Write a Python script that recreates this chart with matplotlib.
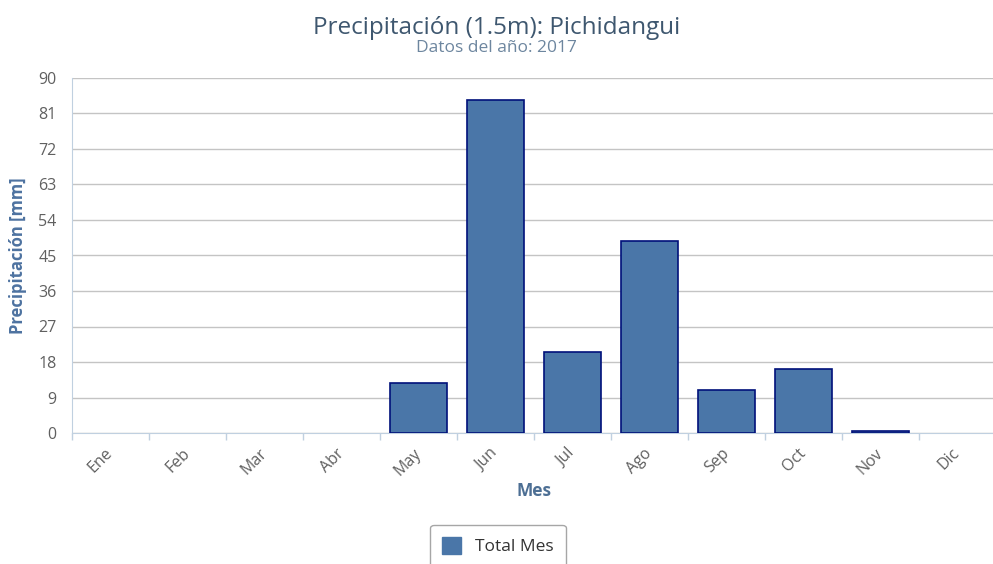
#!/usr/bin/env python3

import matplotlib
matplotlib.use("Agg")
import matplotlib.pyplot as plt
from matplotlib.ticker import FixedLocator

plt.rcParams['font.family'] = ['Open Sans', 'DejaVu Sans']

months = ["Ene", "Feb", "Mar", "Abr", "May", "Jun",
          "Jul", "Ago", "Sep", "Oct", "Nov", "Dic"]
total_mes = [0, 0, 0, 0, 12.7, 84.3, 20.6, 48.8, 10.9, 16.2, 0.6, 0]
yticks = [0, 9, 18, 27, 36, 45, 54, 63, 72, 81, 90]

fig = plt.figure(figsize=(9.93, 5.64), dpi=100)
ax = fig.add_axes([72 / 993, 131 / 564, 924 / 993, 355 / 564])

x = list(range(len(months)))
bars = ax.bar(x, total_mes, width=0.75, color="#4a76a8", edgecolor="#00107a",
              linewidth=1.2, label="Total Mes", zorder=3)
# highcharts doesn't draw an outline for empty columns
for b, v in zip(bars, total_mes):
    if v == 0:
        b.set_linewidth(0)

ax.set_xlim(-0.5, len(months) - 0.5)
ax.set_ylim(0, 90)
ax.set_yticks(yticks)
ax.yaxis.grid(True, color="#c4c4c4", linewidth=1, zorder=0)
ax.tick_params(axis="y", length=0, pad=11, labelsize=11.5, labelcolor="#606060")

ax.set_xticks(x)
ax.set_xticklabels(months, rotation=45, ha="right", va="center",
                   rotation_mode="anchor")
ax.tick_params(axis="x", which="major", length=0, pad=13, labelsize=11.5,
               labelcolor="#606060")
ax.xaxis.set_minor_locator(FixedLocator([i + 0.5 for i in range(-1, len(months))]))
ax.tick_params(axis="x", which="minor", length=5, width=1, color="#c0d0e0")

for s in ["top", "right"]:
    ax.spines[s].set_visible(False)
ax.spines["bottom"].set_color("#c0d0e0")
ax.spines["left"].set_color("#c0d0e0")

ax.set_ylabel("Precipitación [mm]", fontsize=12, fontweight="bold",
              color="#4d72a0", labelpad=8)
ax.set_xlabel("Mes", fontsize=12.5, fontweight="bold", color="#4d6f94", labelpad=2)

fig.text(0.5, 1 - 28 / 564, "Precipitación (1.5m): Pichidangui", ha="center",
         va="center", fontsize=17.5, color="#3e576f")
fig.text(0.5, 1 - 48 / 564, "Datos del año: 2017", ha="center", va="center",
         fontsize=12.5, color="#6d869f")

leg = fig.legend(loc="center", bbox_to_anchor=(498 / 993, 1 - 546 / 564),
                 frameon=True, fancybox=True, fontsize=12.5, handlelength=1.1,
                 handleheight=1.1, borderpad=0.7, labelcolor="#333333")
leg.get_frame().set_edgecolor("#909090")
leg.get_frame().set_linewidth(1)
for h in leg.legend_handles:
    h.set_facecolor("#4a76a8")
    h.set_edgecolor("#4a76a8")
    h.set_linewidth(1)

fig.savefig("out.png", dpi=100)
